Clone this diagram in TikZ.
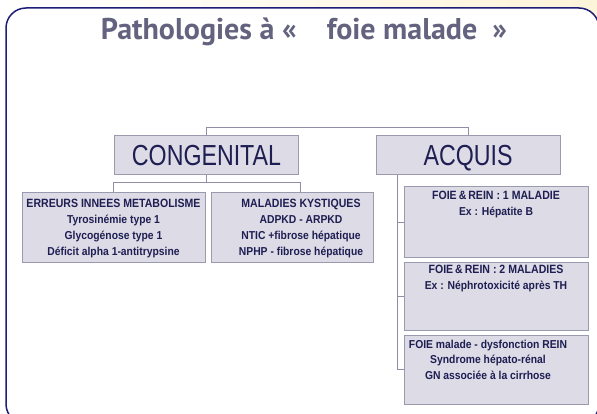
\documentclass[tikz,border=0pt]{standalone}
\usepackage{fontspec}
\setmainfont{Liberation Sans}
\newfontfamily\headfont[FakeStretch=0.8]{Liberation Sans}
\newfontfamily\boxfont[FakeStretch=0.9]{Liberation Sans}
\newfontfamily\boxheadfont[FakeStretch=0.88]{Liberation Sans}
\newfontfamily\titlefont{PT Sans}
\newcommand\boxhead[1]{{\boxheadfont\bfseries\fontsize{12}{16}\selectfont #1}}

\definecolor{boxfill}{HTML}{DCDBE6}
\definecolor{boxline}{HTML}{9A9AAE}
\definecolor{ink}{HTML}{1E1E52}
\definecolor{titlegray}{HTML}{63637F}
\definecolor{frameblue}{HTML}{1E1E78}
\definecolor{paleyellow}{HTML}{FDF5DA}
\definecolor{linkgray}{HTML}{8E8EA4}

\begin{document}
\begin{tikzpicture}[x=1pt, y=-1pt]
      \tikzset{catbox/.style={draw=boxline, fill=boxfill, line width=1pt, inner sep=0pt, minimum width=184pt, minimum height=39pt, text height=21pt, text depth=1pt, text=ink, font=\headfont\fontsize{29}{29}\selectfont},
               subbox/.style={draw=boxline, fill=boxfill, line width=1pt, inner sep=0pt, minimum height=69pt},
               lbl/.style={text=ink, align=center, inner sep=0pt, font=\boxfont\bfseries\fontsize{11.5}{16}\selectfont},
               link/.style={draw=linkgray, line width=0.9pt}}

      \useasboundingbox (0,0) rectangle (597,414);
      \shade[left color=white, right color=paleyellow] (0,0) rectangle (597,414);
      \filldraw[fill=white, draw=frameblue, line width=1.5pt, rounded corners=20pt] (6,8) rectangle (599,424);

      \node[text=titlegray, font=\titlefont\bfseries\fontsize{30}{30}\selectfont, anchor=base] (title) at (304,40) {Pathologies à «\quad foie malade\enspace »};

      \node[catbox] (cong) at (206.5,155.5) {CONGENITAL};
      \node[catbox] (acq) at (468,155.5) {ACQUIS};

      \node[subbox, minimum width=183pt, label={[lbl, yshift=-1pt]center:\boxhead{ERREURS INNEES METABOLISME}\\Tyrosinémie type 1\\Glycogénose type 1\\Déficit alpha 1-antitrypsine}] (err) at (113.5,227.5) {};
      \node[subbox, minimum width=162pt, label={[lbl, xshift=9pt, yshift=-1pt]center:\boxhead{MALADIES KYSTIQUES}\\ADPKD - ARPKD\\NTIC +fibrose hépatique\\NPHP - fibrose hépatique}] (kys) at (292,227.5) {};

      \node[subbox, minimum width=184pt, minimum height=70pt, label={[lbl, anchor=north, yshift=-4pt]north:\boxhead{FOIE\,\&\,REIN : 1 MALADIE}\\Ex : Hépatite B}] (f1) at (496,222) {};
      \node[subbox, minimum width=184pt, minimum height=68pt, label={[lbl, anchor=north, yshift=-3pt]north:\boxhead{FOIE\,\&\,REIN : 2 MALADIES}\\Ex : Néphrotoxicité après TH}] (f2) at (496,296) {};
      \node[subbox, minimum width=184pt, label={[lbl, anchor=north, yshift=-5pt, xshift=-8pt, font=\boxfont\bfseries\fontsize{11.5}{15.5}\selectfont]north:FOIE malade - dysfonction REIN\\Syndrome hépato-rénal\\GN associée à la cirrhose}] (f3) at (496,369.5) {};

      \draw[link] (cong.north) -- ++(0,-8) -| (acq.north);
      \draw[link] (cong.south) -- ++(0,7) coordinate (cjoin) -| (err.north);
      \draw[link] (cjoin) -| ([xshift=8pt]kys.north);

      \coordinate (trunk) at ([xshift=22pt]acq.south west);
      \draw[link] (trunk) |- (f1.west);
      \draw[link] (trunk) |- (f2.west);
      \draw[link] (trunk) |- (f3.west);
\end{tikzpicture}
\end{document}
